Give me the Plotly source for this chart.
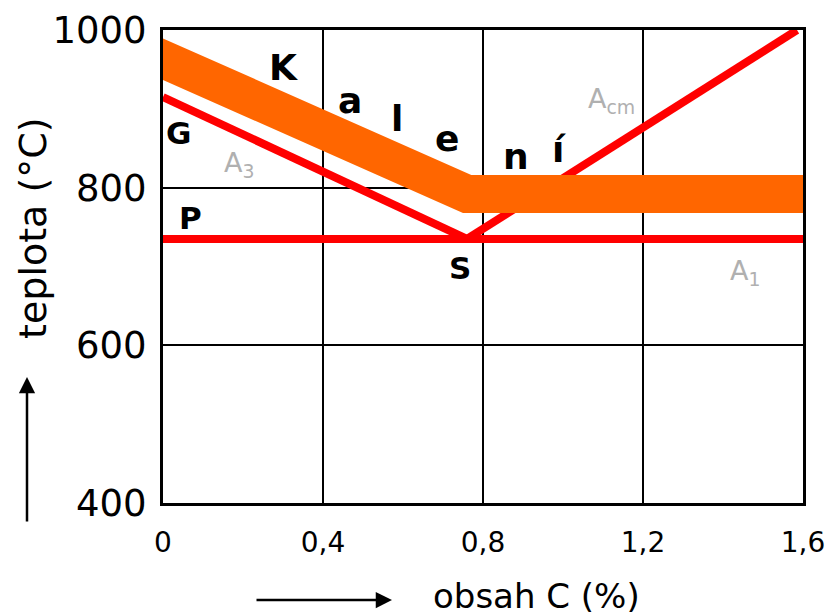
import plotly.graph_objects as go

# obsah uhliku (%) a teploty (°C) odectene z diagramu
c_A3 = [0, 0.76]
t_A3 = [915, 735]
c_A1 = [0, 1.6]
t_A1 = [735, 735]
c_Acm = [0.76, 1.585]
t_Acm = [735, 1000]
c_kaleni = [-0.04, 0.76, 1.6]
t_kaleni = [972, 792, 792]

x_ticks = [0, 0.4, 0.8, 1.2, 1.6]
x_tick_text = ["0", "0,4", "0,8", "1,2", "1,6"]
y_ticks = [400, 600, 800, 1000]

# popisky v diagramu: (text, x, y, tucne)
popisky = [
    ("K", 0.30, 953, True),
    ("a", 0.4675, 911, True),
    ("l", 0.585, 888, True),
    ("e", 0.71, 863, True),
    ("n", 0.8825, 839, True),
    ("í", 0.99, 848, True),
    ("G", 0.0375, 869, False),
    ("P", 0.0675, 762, False),
    ("S", 0.7425, 698, False),
]
popisky_A = [
    ("A<sub>3</sub>", 0.19, 829),
    ("A<sub>cm</sub>", 1.12, 911),
    ("A<sub>1</sub>", 1.455, 693),
]

W, H = 826, 616
L, T = 163, 30
pw, ph = 640, 473
R, B = W - L - pw, H - T - ph


def px(xp):
    return (xp - L) / pw


def py(yp):
    return (T + ph - yp) / ph


fig = go.Figure()
red = dict(color="#ff0000", width=8)
fig.add_trace(go.Scatter(x=c_A1, y=t_A1, mode="lines", line=red))
fig.add_trace(go.Scatter(x=c_A3, y=t_A3, mode="lines", line=red))
fig.add_trace(go.Scatter(x=c_Acm, y=t_Acm, mode="lines", line=red))
fig.add_trace(go.Scatter(x=c_kaleni, y=t_kaleni, mode="lines",
                         line=dict(color="#ff6600", width=38)))

for txt, x, y, velke in popisky:
    fig.add_annotation(x=x, y=y, text=f"<b>{txt}</b>", showarrow=False,
                       font=dict(family="DejaVu Sans", size=36 if velke else 31, color="black"))
for txt, x, y in popisky_A:
    fig.add_annotation(x=x, y=y, text=txt, showarrow=False,
                       font=dict(family="DejaVu Sans", size=27, color="#b0b0b0"))

# osa y: popis a sipka
fig.add_annotation(xref="paper", yref="paper", x=px(33), y=py(228),
                   xanchor="center", yanchor="middle",
                   text="teplota (°C)", textangle=-90, showarrow=False,
                   font=dict(family="DejaVu Sans", size=38, color="black"))
fig.add_annotation(xref="paper", yref="paper", x=px(27), y=py(377),
                   ax=0, ay=146, showarrow=True, arrowhead=2, arrowsize=1.3,
                   arrowwidth=2.5, arrowcolor="black", text="")
# osa x: popis a sipka
fig.add_annotation(xref="paper", yref="paper", x=px(536), y=py(596),
                   xanchor="center", yanchor="middle",
                   text="obsah C (%)", showarrow=False,
                   font=dict(family="DejaVu Sans", size=34, color="black"))
fig.add_annotation(xref="paper", yref="paper", x=px(392), y=py(600),
                   ax=-137, ay=0, showarrow=True, arrowhead=2, arrowsize=1.3,
                   arrowwidth=2.5, arrowcolor="black", text="")

fig.update_layout(
    width=W, height=H,
    margin=dict(l=L, r=R, t=T, b=B),
    paper_bgcolor="white", plot_bgcolor="white",
    showlegend=False,
    font=dict(family="DejaVu Sans", size=31, color="black"),
)
fig.update_xaxes(range=[0, 1.6], tickvals=x_ticks, ticktext=x_tick_text,
                 showgrid=True, gridcolor="black", gridwidth=2,
                 showline=True, linecolor="black", linewidth=3, mirror=True,
                 zeroline=False, ticks="", ticklabelstandoff=12,
                 ticklabeloverflow="allow", automargin=False,
                 tickfont=dict(size=28))
fig.update_yaxes(range=[400, 1000], tickvals=y_ticks,
                 showgrid=True, gridcolor="black", gridwidth=2,
                 showline=True, linecolor="black", linewidth=3, mirror=True,
                 zeroline=False, ticks="", ticklabelstandoff=6,
                 automargin=False, tickfont=dict(size=37))

# bez okraje stranky, aby figura presne vyplnila okno
fig.write_html("out.html", config={"displayModeBar": False},
               post_script="document.body.style.margin='0';")
